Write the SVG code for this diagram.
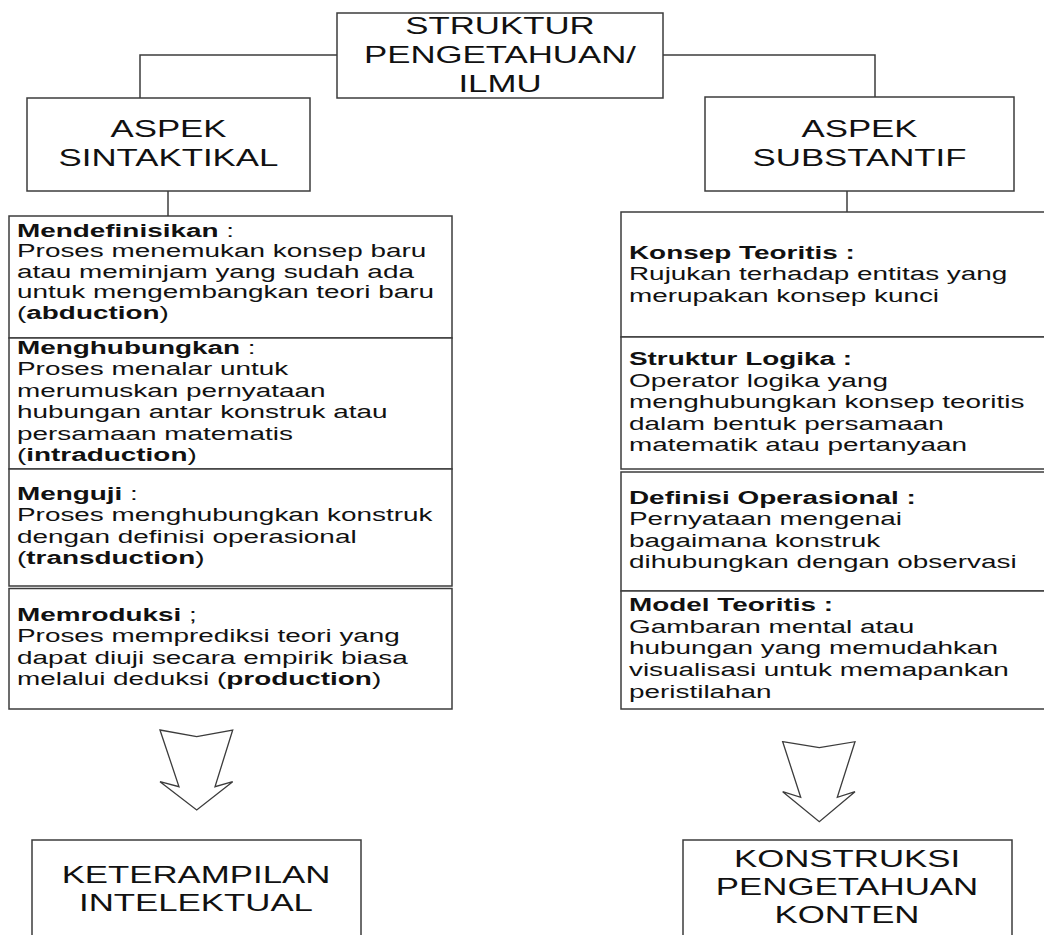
<svg xmlns="http://www.w3.org/2000/svg" width="1044" height="935" viewBox="0 0 1044 935">
  <style>
    .box { fill: #ffffff; stroke: #3c3c3c; stroke-width: 1.5; }
    .wire { fill: none; stroke: #3c3c3c; stroke-width: 1.5; }
    .arrow { fill: #ffffff; stroke: #3c3c3c; stroke-width: 1.3; stroke-linejoin: miter; }
    .head { font-family: "Liberation Sans", Arial, sans-serif; font-size: 23.2px; fill: #111; text-anchor: middle; }
    .body { font-family: "Liberation Sans", Arial, sans-serif; font-size: 18.6px; fill: #111; }
    .b { font-weight: bold; }
  </style>

  <rect width="1044" height="935" fill="#ffffff"/>

  <!-- connectors between the heading boxes, and the two block arrows -->
  <g id="connectors">
    <path class="wire" d="M337,55 H140 V98"/>
    <path class="wire" d="M663,55 H875 V97"/>
    <path class="wire" d="M168,191 V216"/>
    <path class="wire" d="M847,191 V212"/>
    <polygon class="arrow" points="160,730 196.7,736.7 232.7,730 215,786.7 232.7,781.7 196.7,810 160,781.7 179,786.7"/>
    <polygon class="arrow" points="782.7,741.7 819.3,747.7 855,741.7 837.3,797.3 855,791.7 819.3,821.7 782.7,791.7 800.7,797.3"/>
  </g>

  <!-- root -->
  <g id="root">
    <rect class="box" x="337" y="13" width="326" height="85"/>
    <g transform="scale(1.5 1)">
      <text class="head" x="333.33" y="34">STRUKTUR</text>
      <text class="head" x="333.33" y="63">PENGETAHUAN/</text>
      <text class="head" x="333.33" y="92">ILMU</text>
    </g>
  </g>

  <g id="aspek-sintaktikal">
    <rect class="box" x="27" y="98" width="283" height="93"/>
    <g transform="scale(1.5 1)">
      <text class="head" x="112.33" y="137">ASPEK</text>
      <text class="head" x="112.33" y="166">SINTAKTIKAL</text>
    </g>
  </g>

  <g id="aspek-substantif">
    <rect class="box" x="705" y="97" width="309" height="94"/>
    <g transform="scale(1.5 1)">
      <text class="head" x="573" y="137">ASPEK</text>
      <text class="head" x="573" y="166">SUBSTANTIF</text>
    </g>
  </g>

  <!-- syntactic column -->
  <g id="mendefinisikan">
    <rect class="box" x="9" y="216" width="443" height="122"/>
    <g transform="scale(1.5 1)" class="body">
      <text x="11.33" y="237"><tspan class="b">Mendefinisikan</tspan> :</text>
      <text x="11.33" y="257.5">Proses menemukan konsep baru</text>
      <text x="11.33" y="278">atau meminjam yang sudah ada</text>
      <text x="11.33" y="298.5">untuk mengembangkan teori baru</text>
      <text x="11.33" y="319">(<tspan class="b">abduction</tspan>)</text>
    </g>
  </g>

  <g id="menghubungkan">
    <rect class="box" x="9" y="338" width="443" height="131"/>
    <g transform="scale(1.5 1)" class="body">
      <text x="11.33" y="354"><tspan class="b">Menghubungkan</tspan> :</text>
      <text x="11.33" y="375.5">Proses menalar untuk</text>
      <text x="11.33" y="397">merumuskan pernyataan</text>
      <text x="11.33" y="418.5">hubungan antar konstruk atau</text>
      <text x="11.33" y="440">persamaan matematis</text>
      <text x="11.33" y="461.5">(<tspan class="b">intraduction</tspan>)</text>
    </g>
  </g>

  <g id="menguji">
    <rect class="box" x="9" y="469" width="443" height="117"/>
    <g transform="scale(1.5 1)" class="body">
      <text x="11.33" y="500"><tspan class="b">Menguji</tspan> :</text>
      <text x="11.33" y="521.3">Proses menghubungkan konstruk</text>
      <text x="11.33" y="542.6">dengan definisi operasional</text>
      <text x="11.33" y="564">(<tspan class="b">transduction</tspan>)</text>
    </g>
  </g>

  <g id="memroduksi">
    <rect class="box" x="9" y="588.5" width="443" height="120.5"/>
    <g transform="scale(1.5 1)" class="body">
      <text x="11.33" y="621"><tspan class="b">Memroduksi</tspan> ;</text>
      <text x="11.33" y="642.5">Proses memprediksi teori yang</text>
      <text x="11.33" y="664">dapat diuji secara empirik biasa</text>
      <text x="11.33" y="685.5">melalui deduksi (<tspan class="b">production</tspan>)</text>
    </g>
  </g>

  <!-- substantive column (runs past the right edge) -->
  <g id="konsep-teoritis">
    <rect class="box" x="621" y="212" width="440" height="125"/>
    <g transform="scale(1.5 1)" class="body">
      <text class="b" x="419.33" y="259">Konsep Teoritis :</text>
      <text x="419.33" y="280.5">Rujukan terhadap entitas yang</text>
      <text x="419.33" y="302">merupakan konsep kunci</text>
    </g>
  </g>

  <g id="struktur-logika">
    <rect class="box" x="621" y="337" width="440" height="132"/>
    <g transform="scale(1.5 1)" class="body">
      <text class="b" x="419.33" y="365.5">Struktur Logika :</text>
      <text x="419.33" y="387">Operator logika yang</text>
      <text x="419.33" y="408.5">menghubungkan konsep teoritis</text>
      <text x="419.33" y="430">dalam bentuk persamaan</text>
      <text x="419.33" y="451.5">matematik atau pertanyaan</text>
    </g>
  </g>

  <g id="definisi-operasional">
    <rect class="box" x="621" y="472" width="440" height="119"/>
    <g transform="scale(1.5 1)" class="body">
      <text class="b" x="419.33" y="504">Definisi Operasional :</text>
      <text x="419.33" y="525.5">Pernyataan mengenai</text>
      <text x="419.33" y="547">bagaimana konstruk</text>
      <text x="419.33" y="568.5">dihubungkan dengan observasi</text>
    </g>
  </g>

  <g id="model-teoritis">
    <rect class="box" x="621" y="591" width="440" height="118"/>
    <g transform="scale(1.5 1)" class="body">
      <text class="b" x="419.33" y="611">Model Teoritis :</text>
      <text x="419.33" y="632.7">Gambaran mental atau</text>
      <text x="419.33" y="654.4">hubungan yang memudahkan</text>
      <text x="419.33" y="676.1">visualisasi untuk memapankan</text>
      <text x="419.33" y="697.8">peristilahan</text>
    </g>
  </g>

  <!-- outcomes -->
  <g id="keterampilan-intelektual">
    <rect class="box" x="32" y="840" width="329" height="110"/>
    <g transform="scale(1.5 1)">
      <text class="head" x="130.67" y="883">KETERAMPILAN</text>
      <text class="head" x="130.67" y="911">INTELEKTUAL</text>
    </g>
  </g>

  <g id="konstruksi-pengetahuan-konten">
    <rect class="box" x="683" y="840" width="329" height="110"/>
    <g transform="scale(1.5 1)">
      <text class="head" x="564.67" y="867">KONSTRUKSI</text>
      <text class="head" x="564.67" y="895">PENGETAHUAN</text>
      <text class="head" x="564.67" y="923">KONTEN</text>
    </g>
  </g>
</svg>
